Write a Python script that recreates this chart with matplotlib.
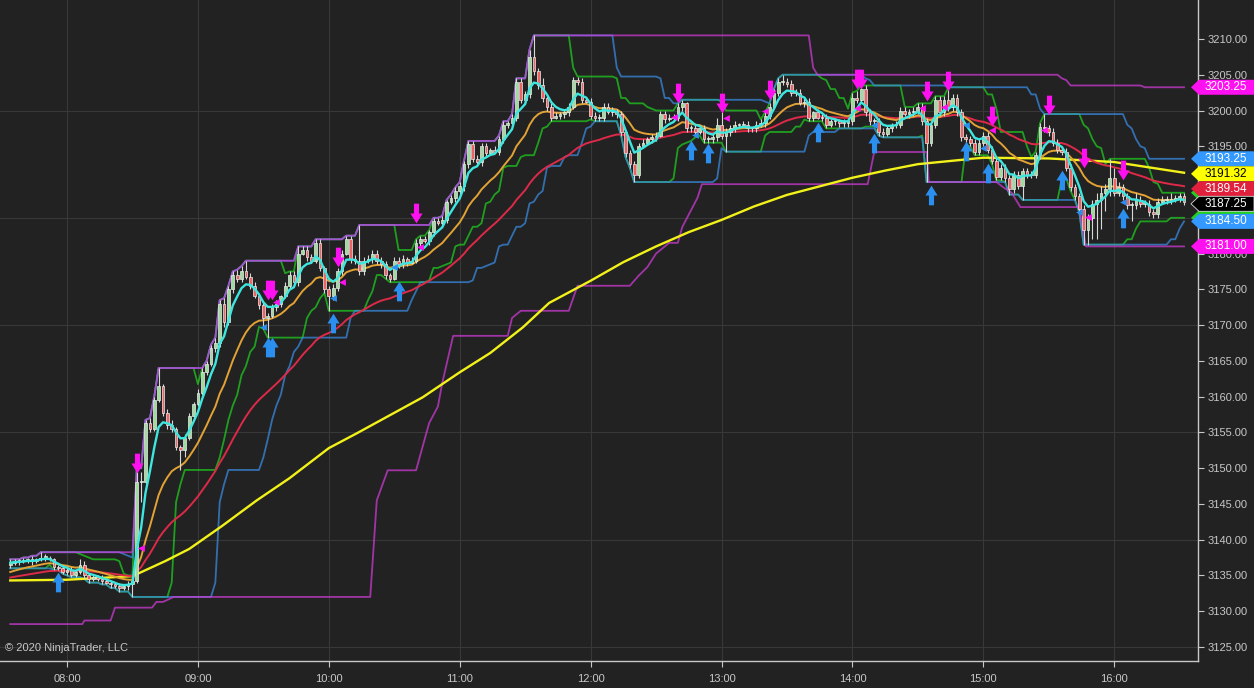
"""Intraday ES-style chart: 2-min candles, EMAs, SMA and Donchian channels on a dark theme."""
import numpy as np
import pandas as pd
import matplotlib
matplotlib.use("Agg")
import matplotlib.pyplot as plt
from matplotlib.path import Path
from matplotlib.patches import Polygon

plt.rcParams['font.family'] = ['Liberation Sans', 'DejaVu Sans']

BG = "#222222"
GRID = "#383838"
AXIS = "#c8c8c8"

START = "07:34"
BAR_MIN = 2
OPEN0 = 3136.5

closes = [
    3136.75, 3137.0, 3137.0, 3137.0, 3137.25, 3137.0, 3137.25, 3137.5, 3137.5, 3137.25, 3136.25, 3136.0, 3135.5, 3135.75, 3135.0,
    3135.5, 3136.5, 3135.0, 3134.5, 3134.75, 3134.5, 3134.25, 3134.0, 3133.75, 3133.5, 3133.25, 3133.5, 3133.75, 3134.25, 3148.0,
    3148.0, 3156.25, 3155.5, 3159.5, 3161.5, 3157.75, 3156.0, 3155.5, 3153.0, 3152.5, 3154.25, 3157.25, 3159.0, 3160.5, 3163.5,
    3164.5, 3166.75, 3167.5, 3173.0, 3170.5, 3175.0, 3177.0, 3176.5, 3177.5, 3176.75, 3175.5, 3174.0, 3172.75, 3171.0, 3171.25,
    3172.5, 3173.0, 3174.0, 3175.5, 3177.0, 3176.0, 3180.0, 3180.5, 3179.5, 3179.0, 3181.5, 3178.0, 3175.0, 3174.0, 3175.25,
    3177.5, 3180.0, 3182.0, 3179.25, 3179.0, 3177.5, 3179.0, 3179.25, 3180.0, 3179.0, 3178.5, 3177.0, 3176.5, 3179.0, 3178.5,
    3179.25, 3178.75, 3179.0, 3181.5, 3182.0, 3181.75, 3183.0, 3184.5, 3184.25, 3184.75, 3187.25, 3187.75, 3188.75, 3189.5, 3192.5,
    3195.25, 3193.25, 3192.75, 3195.0, 3194.0, 3194.5, 3194.25, 3196.0, 3198.0, 3198.25, 3199.0, 3204.0, 3201.5, 3202.25, 3207.5,
    3205.5, 3203.5, 3201.75, 3200.5, 3199.0, 3199.25, 3199.5, 3199.75, 3200.5, 3204.25, 3204.0, 3201.5, 3201.25, 3199.25, 3199.0,
    3199.0, 3200.5, 3199.75, 3200.0, 3199.5, 3197.0, 3194.0, 3192.5, 3191.0, 3195.0, 3195.5, 3196.0, 3196.25, 3196.5, 3199.5,
    3198.75, 3199.0, 3199.0, 3200.5, 3201.0, 3197.5, 3197.5, 3197.0, 3197.5, 3196.0, 3196.0, 3196.25, 3198.0, 3196.5, 3197.0,
    3197.5, 3198.0, 3198.0, 3198.0, 3197.5, 3197.5, 3198.0, 3198.25, 3199.25, 3200.5, 3202.5, 3204.0, 3204.0, 3203.75, 3202.5,
    3202.5, 3201.0, 3201.25, 3199.0, 3199.75, 3199.0, 3199.0, 3198.0, 3198.5, 3198.5, 3198.25, 3198.25, 3198.5, 3201.75, 3201.5,
    3203.0, 3199.75, 3198.5, 3198.5, 3197.0, 3196.75, 3197.5, 3198.0, 3198.0, 3200.0, 3199.5, 3199.75, 3200.0, 3200.5, 3198.5,
    3195.5, 3198.0, 3201.5, 3199.75, 3201.5, 3200.5, 3201.75, 3199.75, 3196.25, 3196.0, 3195.5, 3194.25, 3195.5, 3196.5, 3194.5,
    3193.0, 3190.75, 3192.0, 3190.5, 3189.0, 3191.0, 3189.5, 3191.5, 3191.0, 3191.0, 3193.75, 3197.75, 3197.5, 3197.0, 3195.5,
    3194.5, 3194.25, 3192.0, 3189.25, 3188.0, 3186.25, 3183.25, 3185.0, 3187.0, 3187.5, 3188.5, 3189.0, 3190.5, 3188.5, 3189.25,
    3188.0, 3186.75, 3186.75, 3187.5, 3187.0, 3187.0, 3185.75, 3185.5, 3187.25, 3187.5, 3187.5, 3187.5, 3187.75, 3188.0, 3187.25,
]

# wick lengths in ticks (0.25) above / below the body
up_ticks = [
    2, 1, 1, 2, 1, 2, 1, 3, 2, 1, 1, 1, 2, 1, 2,
    1, 3, 2, 1, 1, 1, 2, 1, 1, 1, 2, 1, 2, 2, 8,
    6, 2, 3, 2, 10, 1, 2, 3, 1, 1, 2, 2, 1, 2, 2,
    2, 2, 3, 2, 3, 2, 2, 3, 3, 6, 2, 2, 1, 2, 2,
    2, 2, 1, 2, 2, 2, 4, 2, 2, 2, 2, 2, 1, 2, 2,
    2, 2, 2, 2, 2, 20, 2, 2, 2, 2, 2, 2, 1, 2, 2,
    2, 1, 2, 2, 2, 2, 1, 2, 2, 2, 1, 2, 2, 2, 2,
    2, 2, 2, 2, 2, 1, 2, 2, 2, 1, 2, 2, 2, 2, 4,
    12, 2, 4, 2, 2, 2, 1, 2, 2, 2, 2, 2, 1, 2, 2,
    2, 2, 2, 2, 1, 2, 1, 2, 2, 2, 2, 1, 2, 2, 2,
    2, 2, 2, 2, 2, 1, 2, 2, 2, 2, 2, 2, 4, 8, 2,
    2, 2, 1, 2, 2, 1, 2, 2, 2, 2, 2, 2, 4, 2, 2,
    2, 2, 2, 2, 1, 2, 2, 2, 1, 2, 1, 2, 2, 3, 4,
    2, 2, 2, 2, 2, 2, 2, 1, 2, 2, 2, 2, 2, 2, 2,
    2, 2, 2, 2, 2, 7, 2, 2, 2, 2, 2, 2, 2, 2, 2,
    2, 2, 2, 2, 2, 2, 2, 2, 2, 2, 2, 2, 7, 2, 2,
    2, 2, 2, 2, 2, 2, 2, 2, 2, 4, 4, 3, 11, 6, 3,
    2, 2, 2, 4, 2, 2, 2, 2, 2, 2, 2, 4, 2, 2, 2,
]
dn_ticks = [
    2, 1, 2, 1, 1, 2, 1, 1, 2, 1, 2, 1, 1, 2, 1,
    1, 1, 2, 2, 1, 1, 2, 1, 2, 1, 2, 1, 2, 7, 1,
    11, 1, 2, 1, 1, 2, 2, 2, 2, 11, 4, 1, 2, 1, 1,
    2, 1, 2, 2, 3, 2, 2, 2, 2, 1, 2, 1, 2, 6, 11,
    1, 2, 2, 1, 2, 2, 2, 1, 2, 1, 1, 2, 2, 8, 2,
    2, 2, 1, 2, 2, 2, 2, 1, 2, 2, 2, 2, 2, 1, 2,
    2, 2, 1, 1, 2, 1, 2, 2, 1, 2, 2, 1, 2, 2, 3,
    2, 2, 2, 2, 2, 1, 1, 2, 2, 2, 2, 2, 2, 2, 2,
    2, 2, 2, 2, 2, 1, 2, 2, 2, 1, 2, 2, 1, 2, 2,
    2, 2, 1, 2, 2, 2, 2, 2, 4, 2, 1, 1, 2, 2, 1,
    2, 1, 2, 2, 2, 2, 2, 2, 1, 2, 2, 2, 2, 2, 9,
    2, 2, 2, 1, 2, 2, 2, 1, 2, 2, 1, 2, 2, 2, 2,
    2, 1, 2, 2, 2, 1, 2, 2, 1, 2, 2, 2, 2, 2, 2,
    2, 2, 2, 2, 2, 2, 1, 2, 2, 2, 1, 2, 2, 2, 2,
    22, 2, 2, 2, 2, 2, 2, 2, 2, 2, 2, 2, 2, 2, 2,
    2, 2, 2, 2, 3, 2, 2, 8, 2, 2, 2, 2, 2, 2, 2,
    2, 2, 2, 2, 2, 2, 8, 8, 12, 20, 16, 10, 4, 2, 2,
    2, 2, 9, 2, 2, 2, 2, 2, 2, 1, 2, 2, 1, 2, 2,
]

# slow SMA (yellow)
sma_times = ["07:34", "08:00", "08:30", "08:45", "08:56", "09:11", "09:27", "09:42", "10:00", "10:13",
             "10:28", "10:43", "11:00", "11:14", "11:29", "11:41", "12:00", "12:15", "12:30", "12:45",
             "13:00", "13:15", "13:30", "13:45", "14:00", "14:15", "14:30", "15:00", "15:30", "16:00", "16:32"]
sma_vals = [3134.3, 3134.4, 3134.9, 3137.0, 3138.7, 3141.9, 3145.5, 3148.6, 3152.8, 3154.9,
            3157.4, 3159.9, 3163.4, 3166.1, 3169.7, 3173.1, 3176.2, 3178.8, 3181.0, 3183.0,
            3184.7, 3186.6, 3188.2, 3189.4, 3190.6, 3191.6, 3192.5, 3193.4, 3193.3, 3192.8, 3191.3]

# long Donchian lower band (magenta)
mag_lo_times = ["07:34", "08:07", "08:08", "08:20", "08:22", "08:39", "08:41", "08:44", "08:49", "10:19",
                "10:22", "10:27", "10:40", "10:46", "10:50", "10:52", "10:57", "11:22", "11:24",
                "11:28", "11:50", "11:54", "12:18", "12:22", "12:26", "12:30", "12:36", "12:40", "12:42",
                "12:49", "12:51", "14:07", "14:10", "14:34", "14:35", "15:06", "15:09", "15:13", "15:17",
                "15:44", "15:47", "16:32"]
mag_lo_vals = [3128.2, 3128.2, 3128.7, 3128.7, 3130.5, 3130.5, 3131.3, 3131.3, 3132.0, 3132.0,
               3145.5, 3149.7, 3149.7, 3156.3, 3158.6, 3161.9, 3168.5, 3168.5, 3171.0,
               3172.0, 3172.0, 3175.5, 3175.5, 3176.9, 3178.1, 3180.0, 3181.5, 3181.5, 3183.7,
               3187.8, 3189.7, 3189.7, 3194.2, 3194.2, 3190.0, 3190.0, 3189.3, 3188.5, 3186.5,
               3186.5, 3181.0, 3181.0]

# signal markers (bar index, price)
sell_bars = [29, 59, 60, 75, 93, 153, 163, 174, 194, 195, 210, 215, 225, 238, 246, 255]
sell_prices = [3150.7, 3174.9, 3174.9, 3179.5, 3185.7, 3202.5, 3201.0, 3202.9, 3204.4, 3204.4,
               3202.7, 3204.1, 3199.2, 3200.8, 3193.4, 3191.7]
buy_bars = [11, 59, 60, 74, 89, 156, 160, 185, 198, 211, 219, 224, 241, 255]
buy_prices = [3134.1, 3166.9, 3166.9, 3170.3, 3174.8, 3194.5, 3194.1, 3197.0, 3195.5, 3188.2,
              3194.3, 3191.3, 3190.3, 3185.0]
sell_tri_bars = [30, 61, 76, 94, 152, 164, 173, 194, 209, 214, 225, 237, 247]
sell_tri_prices = [3138.8, 3173.2, 3176.0, 3180.9, 3199.1, 3199.0, 3199.9, 3200.4, 3200.4, 3200.5,
                   3197.3, 3197.3, 3185.1]
buy_tri_bars = [58, 74, 88, 157, 198, 219, 223, 245, 255]
buy_tri_prices = [3169.7, 3173.8, 3178.1, 3196.6, 3198.0, 3198.0, 3194.8, 3185.8, 3187.2]

tag_values = [3203.25, 3193.25, 3191.32, 3189.54, 3187.25, 3184.50, 3181.00]
tag_colors = ["#ff10f0", "#3399ff", "#ffff00", "#e0203c", "#000000", "#3399ff", "#ff10f0"]
tag_text_colors = ["white", "white", "black", "white", "white", "white", "white"]

hour_labels = ["08:00", "09:00", "10:00", "11:00", "12:00", "13:00", "14:00", "15:00", "16:00"]


def to_min(s):
    h, m = s.split(":")
    return int(h) * 60 + int(m)


close = np.array(closes)
n = len(close)
t = to_min(START) + BAR_MIN * np.arange(n)
open_ = np.r_[OPEN0, close[:-1]]
high = np.maximum(open_, close) + 0.25 * np.array(up_ticks)
low = np.minimum(open_, close) - 0.25 * np.array(dn_ticks)


def ema(seed, span):
    return pd.Series(np.r_[seed, close]).ewm(span=span, adjust=False).mean().values[1:]


ema_fast = ema(3136.8, 5)
ema_mid = ema(3135.3, 15)
ema_slow = ema(3134.6, 40)

hi_s, lo_s = pd.Series(high), pd.Series(low)
green_up = hi_s.rolling(9, min_periods=1).max()
green_lo = lo_s.rolling(9, min_periods=1).min()
blue_up = hi_s.rolling(19, min_periods=1).max()
blue_lo = lo_s.rolling(19, min_periods=1).min()
mag_up = hi_s.rolling(64, min_periods=1).max()

fig = plt.figure(figsize=(12.54, 6.88), dpi=100, facecolor=BG)
ax = fig.add_axes([0, 1 - 661 / 688, 1198 / 1254, 661 / 688], facecolor=BG)
ax.set_xlim(449.3, 998.4)
ax.set_ylim(3123.04, 3215.45)
px_per_pt = 661 / (3215.45 - 3123.04)

# grid
for lvl in np.arange(3125, 3211, 15):
    ax.axhline(lvl, color=GRID, lw=0.8, zorder=0.5)
hour_ticks = [to_min(h) for h in hour_labels]
for x in hour_ticks:
    ax.axvline(x, color=GRID, lw=0.8, zorder=0.5)

# donchian channels, semi-transparent so overlaps blend
ch_kw = dict(lw=1.3, alpha=0.72)
ax.plot(t, green_up, color="#1fd01f", zorder=1.0, **ch_kw)
ax.plot(t, green_lo, color="#1fd01f", zorder=1.0, **ch_kw)
ax.plot(t, blue_up, color="#3a8ee6", zorder=1.1, **ch_kw)
ax.plot(t, blue_lo, color="#3a8ee6", zorder=1.1, **ch_kw)
ax.plot(t, mag_up, color="#d23cd8", zorder=1.2, **ch_kw)
ax.plot([to_min(s) for s in mag_lo_times], mag_lo_vals, color="#d23cd8", zorder=1.2, **ch_kw)

ax.plot([to_min(s) for s in sma_times], sma_vals, color="#f2f21a", lw=1.7, zorder=1.5)
ax.plot(t, ema_slow, color="#dc2a48", lw=1.4, zorder=1.6)
ax.plot(t, ema_mid, color="#e2a235", lw=1.4, zorder=1.7)

# candles
up = close >= open_
body_lo = np.minimum(open_, close)
body_h = np.maximum(np.abs(close - open_), 0.15)
ax.vlines(t, low, high, color="#d8d8d8", lw=0.8, zorder=2.0)
ax.bar(t[up], body_h[up], bottom=body_lo[up], width=1.25, color="#9edc9e",
       edgecolor="#ececec", lw=0.5, zorder=2.1)
ax.bar(t[~up], body_h[~up], bottom=body_lo[~up], width=1.25, color="#ee6464",
       edgecolor="#ececec", lw=0.5, zorder=2.1)

ax.plot(t, ema_fast, color="#3ee6e0", lw=1.7, zorder=2.5)

# signal arrows
arrow_dn = Path([(-0.26, 1.0), (0.26, 1.0), (0.26, 0.0), (0.62, 0.0), (0.0, -1.0),
                 (-0.62, 0.0), (-0.26, 0.0), (-0.26, 1.0)])
arrow_up = Path([(x, -y) for x, y in arrow_dn.vertices])
ax.scatter(t[sell_bars], sell_prices, marker=arrow_dn, s=200, color="#ff10f0", lw=0, zorder=4)
ax.scatter(t[buy_bars], buy_prices, marker=arrow_up, s=200, color="#2b8ff0", lw=0, zorder=4)
ax.scatter(t[sell_tri_bars], sell_tri_prices, marker="<", s=24, color="#ff10f0", lw=0, zorder=4)
ax.scatter(t[buy_tri_bars], buy_tri_prices, marker="<", s=24, color="#2b8ff0", lw=0, zorder=4)

# axes styling
for side in ("top", "left"):
    ax.spines[side].set_visible(False)
for side in ("right", "bottom"):
    ax.spines[side].set_color(AXIS)
    ax.spines[side].set_linewidth(1.0)
ax.yaxis.tick_right()
ax.set_yticks(np.arange(3125, 3211, 5))
ax.yaxis.set_major_formatter(matplotlib.ticker.FormatStrFormatter("%.2f"))
ax.set_xticks(hour_ticks)
ax.set_xticklabels(hour_labels)
ax.tick_params(colors=AXIS, labelsize=8, length=4, width=0.8)
ax.tick_params(axis="y", pad=3)
ax.tick_params(axis="x", pad=5)

ax.text(0.004, 0.02, "\u00a9 2020 NinjaTrader, LLC", transform=ax.transAxes,
        color=AXIS, fontsize=8, va="center", ha="left", zorder=5)

# right-hand value tags
ytr = ax.get_yaxis_transform()
half = 7.5 / px_per_pt
tip_x, body_x, right_x = 1191 / 1198, 1199 / 1198, 1254 / 1198


def tag_shape(v):
    return [(tip_x, v), (body_x, v + half), (right_x, v + half), (right_x, v - half), (body_x, v - half)]


for v in (green_up.iloc[-1], green_lo.iloc[-1]):
    ax.add_patch(Polygon(tag_shape(v), closed=True, transform=ytr, clip_on=False,
                         facecolor="#22d022", edgecolor="none", zorder=9))
placed = []
for v in tag_values:
    pos = v
    if placed and placed[-1] - pos < 2 * half:
        pos = placed[-1] - 2 * half
    placed.append(pos)
for v, pos, c, tc in zip(tag_values, placed, tag_colors, tag_text_colors):
    ax.add_patch(Polygon(tag_shape(pos), closed=True, transform=ytr, clip_on=False,
                         facecolor=c, edgecolor="#dddddd" if c == "#000000" else "none",
                         lw=0.6, zorder=10))
    ax.text(1226 / 1198, pos, f"{v:.2f}", transform=ytr, ha="center", va="center",
            fontsize=8.5, color=tc, clip_on=False, zorder=11)

# price labels that sit fully under a tag are not visible in the original
for tick, lbl in zip(ax.get_yticks(), ax.get_yticklabels()):
    if any(abs(tick - p) < 0.97 for p in placed):
        lbl.set_visible(False)

fig.savefig("out.png", dpi=100, facecolor=BG)
